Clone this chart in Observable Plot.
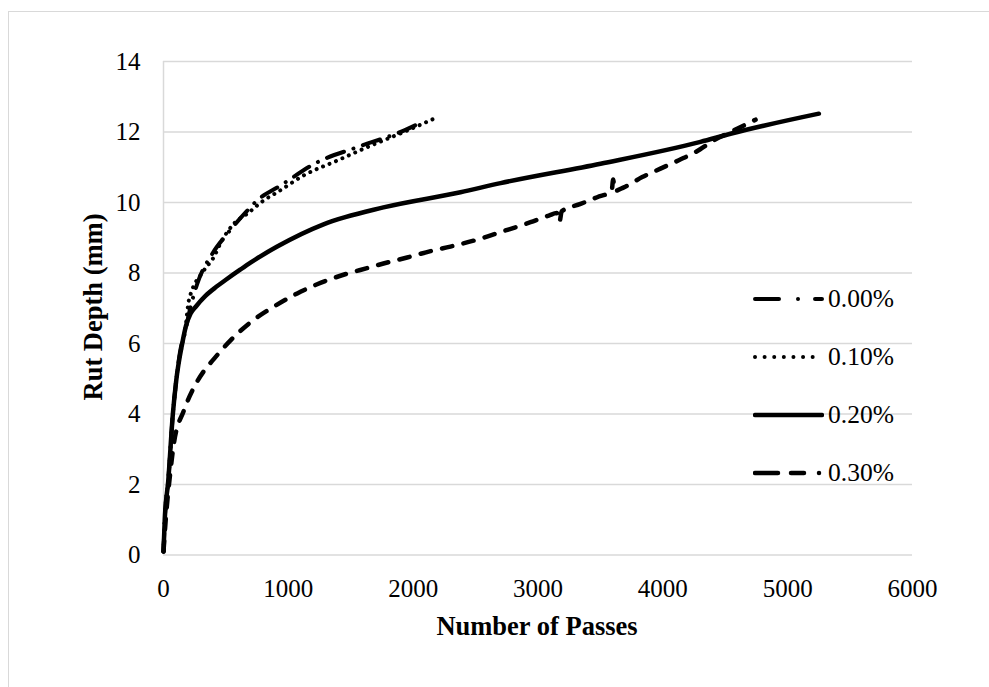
<!DOCTYPE html>
<html><head><meta charset="utf-8">
<script src="https://cdn.jsdelivr.net/npm/d3@7"></script>
<script src="https://cdn.jsdelivr.net/npm/@observablehq/plot@0.6"></script>
<style>
body{margin:0;background:#fff;}
#wrap{position:relative;width:989px;height:687px;overflow:hidden;font-family:"Liberation Serif","Times New Roman",serif;color:#000;}
#frame{position:absolute;left:8px;top:11px;width:1100px;height:800px;border:1px solid #d9d9d9;box-sizing:border-box;pointer-events:none;}
#chart{position:absolute;left:0;top:0;}
.title{position:absolute;font-weight:bold;font-size:26.5px;line-height:1;white-space:nowrap;}
#ytitle{left:93px;top:307px;transform:translate(-50%,-50%) rotate(-90deg);}
#xtitle{left:537px;top:626px;transform:translate(-50%,-50%);}
.lg{position:absolute;left:753px;height:32px;display:flex;align-items:center;font-size:25.5px;line-height:1;}
.lg svg{display:block;}
.lg span{margin-left:4px;}
</style>
</head><body>
<div id="wrap">
  <div id="chart"></div>
  <div id="frame"></div>
  <div class="title" id="ytitle">Rut Depth (mm)</div>
  <div class="title" id="xtitle">Number of Passes</div>
  <div id="legend"></div>
</div>
<script>
// ---- tick values ----
const xTicks = [0, 1000, 2000, 3000, 4000, 5000, 6000];
const yTicks = [0, 2, 4, 6, 8, 10, 12, 14];
const seriesNames = ["0.00%", "0.10%", "0.20%", "0.30%"];

// ---- series 0.00% ----
const passes000 = [0, 10, 38, 75, 102, 140, 163, 216, 270, 390, 510, 671, 751, 937, 1231, 1552, 1925, 2080];
const rut000    = [0.1, 1.0, 2.1, 4.0, 4.95, 5.9, 6.18, 7.03, 7.69, 8.54, 9.11, 9.77, 10.06, 10.48, 11.14, 11.57, 12.04, 12.3];

// ---- series 0.10% ----
const passes010 = [0, 10, 38, 75, 102, 150, 176, 203, 323, 403, 457, 564, 671, 803, 911, 1124, 1391, 1632, 1925, 2205];
const rut010    = [0.1, 1.0, 2.1, 4.0, 4.95, 6.0, 6.46, 7.22, 8.07, 8.45, 8.85, 9.4, 9.68, 10.06, 10.29, 10.77, 11.19, 11.57, 12.0, 12.44];

// ---- series 0.20% ----
const passes020 = [0, 10, 38, 75, 102, 150, 180, 216, 260, 336, 420, 497, 617, 700, 911, 1282, 1762, 2379, 2700, 3501, 4302, 4542, 5250];
const rut020    = [0.1, 1.0, 2.1, 4.0, 4.95, 6.0, 6.5, 6.84, 7.05, 7.35, 7.6, 7.8, 8.1, 8.3, 8.75, 9.38, 9.86, 10.29, 10.55, 11.1, 11.72, 11.95, 12.52];

// ---- series 0.30% ----
const passes030 = [0, 20, 50, 83, 163, 243, 320, 401, 537, 697, 881, 1071, 1231, 1442, 1632, 1762, 1952, 2139, 2299, 2563, 2673, 2940, 3087, 3150, 3172, 3190, 3341, 3474, 3590, 3602, 3615, 3688, 3835, 3981, 4128, 4262, 4408, 4566, 4743];
const rut030    = [0.1, 1.1, 2.2, 3.16, 4.1, 4.75, 5.2, 5.55, 6.09, 6.6, 7.04, 7.42, 7.68, 7.95, 8.14, 8.27, 8.44, 8.62, 8.75, 9.0, 9.13, 9.44, 9.63, 9.7, 9.45, 9.75, 9.96, 10.15, 10.32, 10.65, 10.33, 10.43, 10.72, 10.96, 11.2, 11.43, 11.76, 12.04, 12.35];

const styles = [
  {strokeWidth: 4,   strokeDasharray: "18,10,0.01,10"},
  {strokeWidth: 4,   strokeDasharray: "0.01,7"},
  {strokeWidth: 4.5, strokeDasharray: null},
  {strokeWidth: 4.5, strokeDasharray: "10.5,11.5"}
];
const legendDash = ["24,19,0.01,17", "0.01,9.6", null, "23,13,13,15,0.01,100"];
const legendWidth = [4, 4, 4.5, 4.5];
const legendY = [299, 357, 415, 473];

const xs = [passes000, passes010, passes020, passes030];
const ys = [rut000, rut010, rut020, rut030];
const tables = xs.map((arr, i) => arr.map((x, j) => ({x, y: ys[i][j], s: seriesNames[i]})));

const lineMarks = tables.map((t, i) => Plot.line(t, {
  x: "x", y: "y", stroke: "black",
  strokeWidth: styles[i].strokeWidth,
  strokeDasharray: styles[i].strokeDasharray,
  strokeLinecap: "round", strokeLinejoin: "round",
  curve: "monotone-x"
}));

const chart = Plot.plot({
  width: 989, height: 687,
  marginLeft: 163, marginRight: 77, marginTop: 61, marginBottom: 132.5,
  style: {fontFamily: '"Liberation Serif", "Times New Roman", serif', fontSize: "25px", color: "#000", background: "transparent", overflow: "visible"},
  x: {domain: [0, 6000], ticks: xTicks, tickSize: 0, tickPadding: 24, label: null, tickFormat: d => String(d)},
  y: {domain: [0, 14], ticks: yTicks, tickSize: 0, tickPadding: 23, label: null, tickFormat: d => String(d)},
  marks: [
    Plot.ruleY(yTicks, {stroke: "#d9d9d9", strokeWidth: 1.5}),
    Plot.ruleX([0], {stroke: "#d9d9d9", strokeWidth: 1.5}),
    ...lineMarks
  ]
});
document.getElementById("chart").appendChild(chart);

// legend
const lg = document.getElementById("legend");
seriesNames.forEach((name, i) => {
  const row = document.createElement("div");
  row.className = "lg";
  row.style.top = (legendY[i] - 16) + "px";
  const dash = legendDash[i] ? ` stroke-dasharray="${legendDash[i]}"` : "";
  row.innerHTML = `<svg width="71" height="12"><line x1="2" y1="6" x2="69" y2="6" stroke="black" stroke-width="${legendWidth[i]}" stroke-linecap="round"${dash}/></svg><span>${name}</span>`;
  lg.appendChild(row);
});
</script>
</body></html>
